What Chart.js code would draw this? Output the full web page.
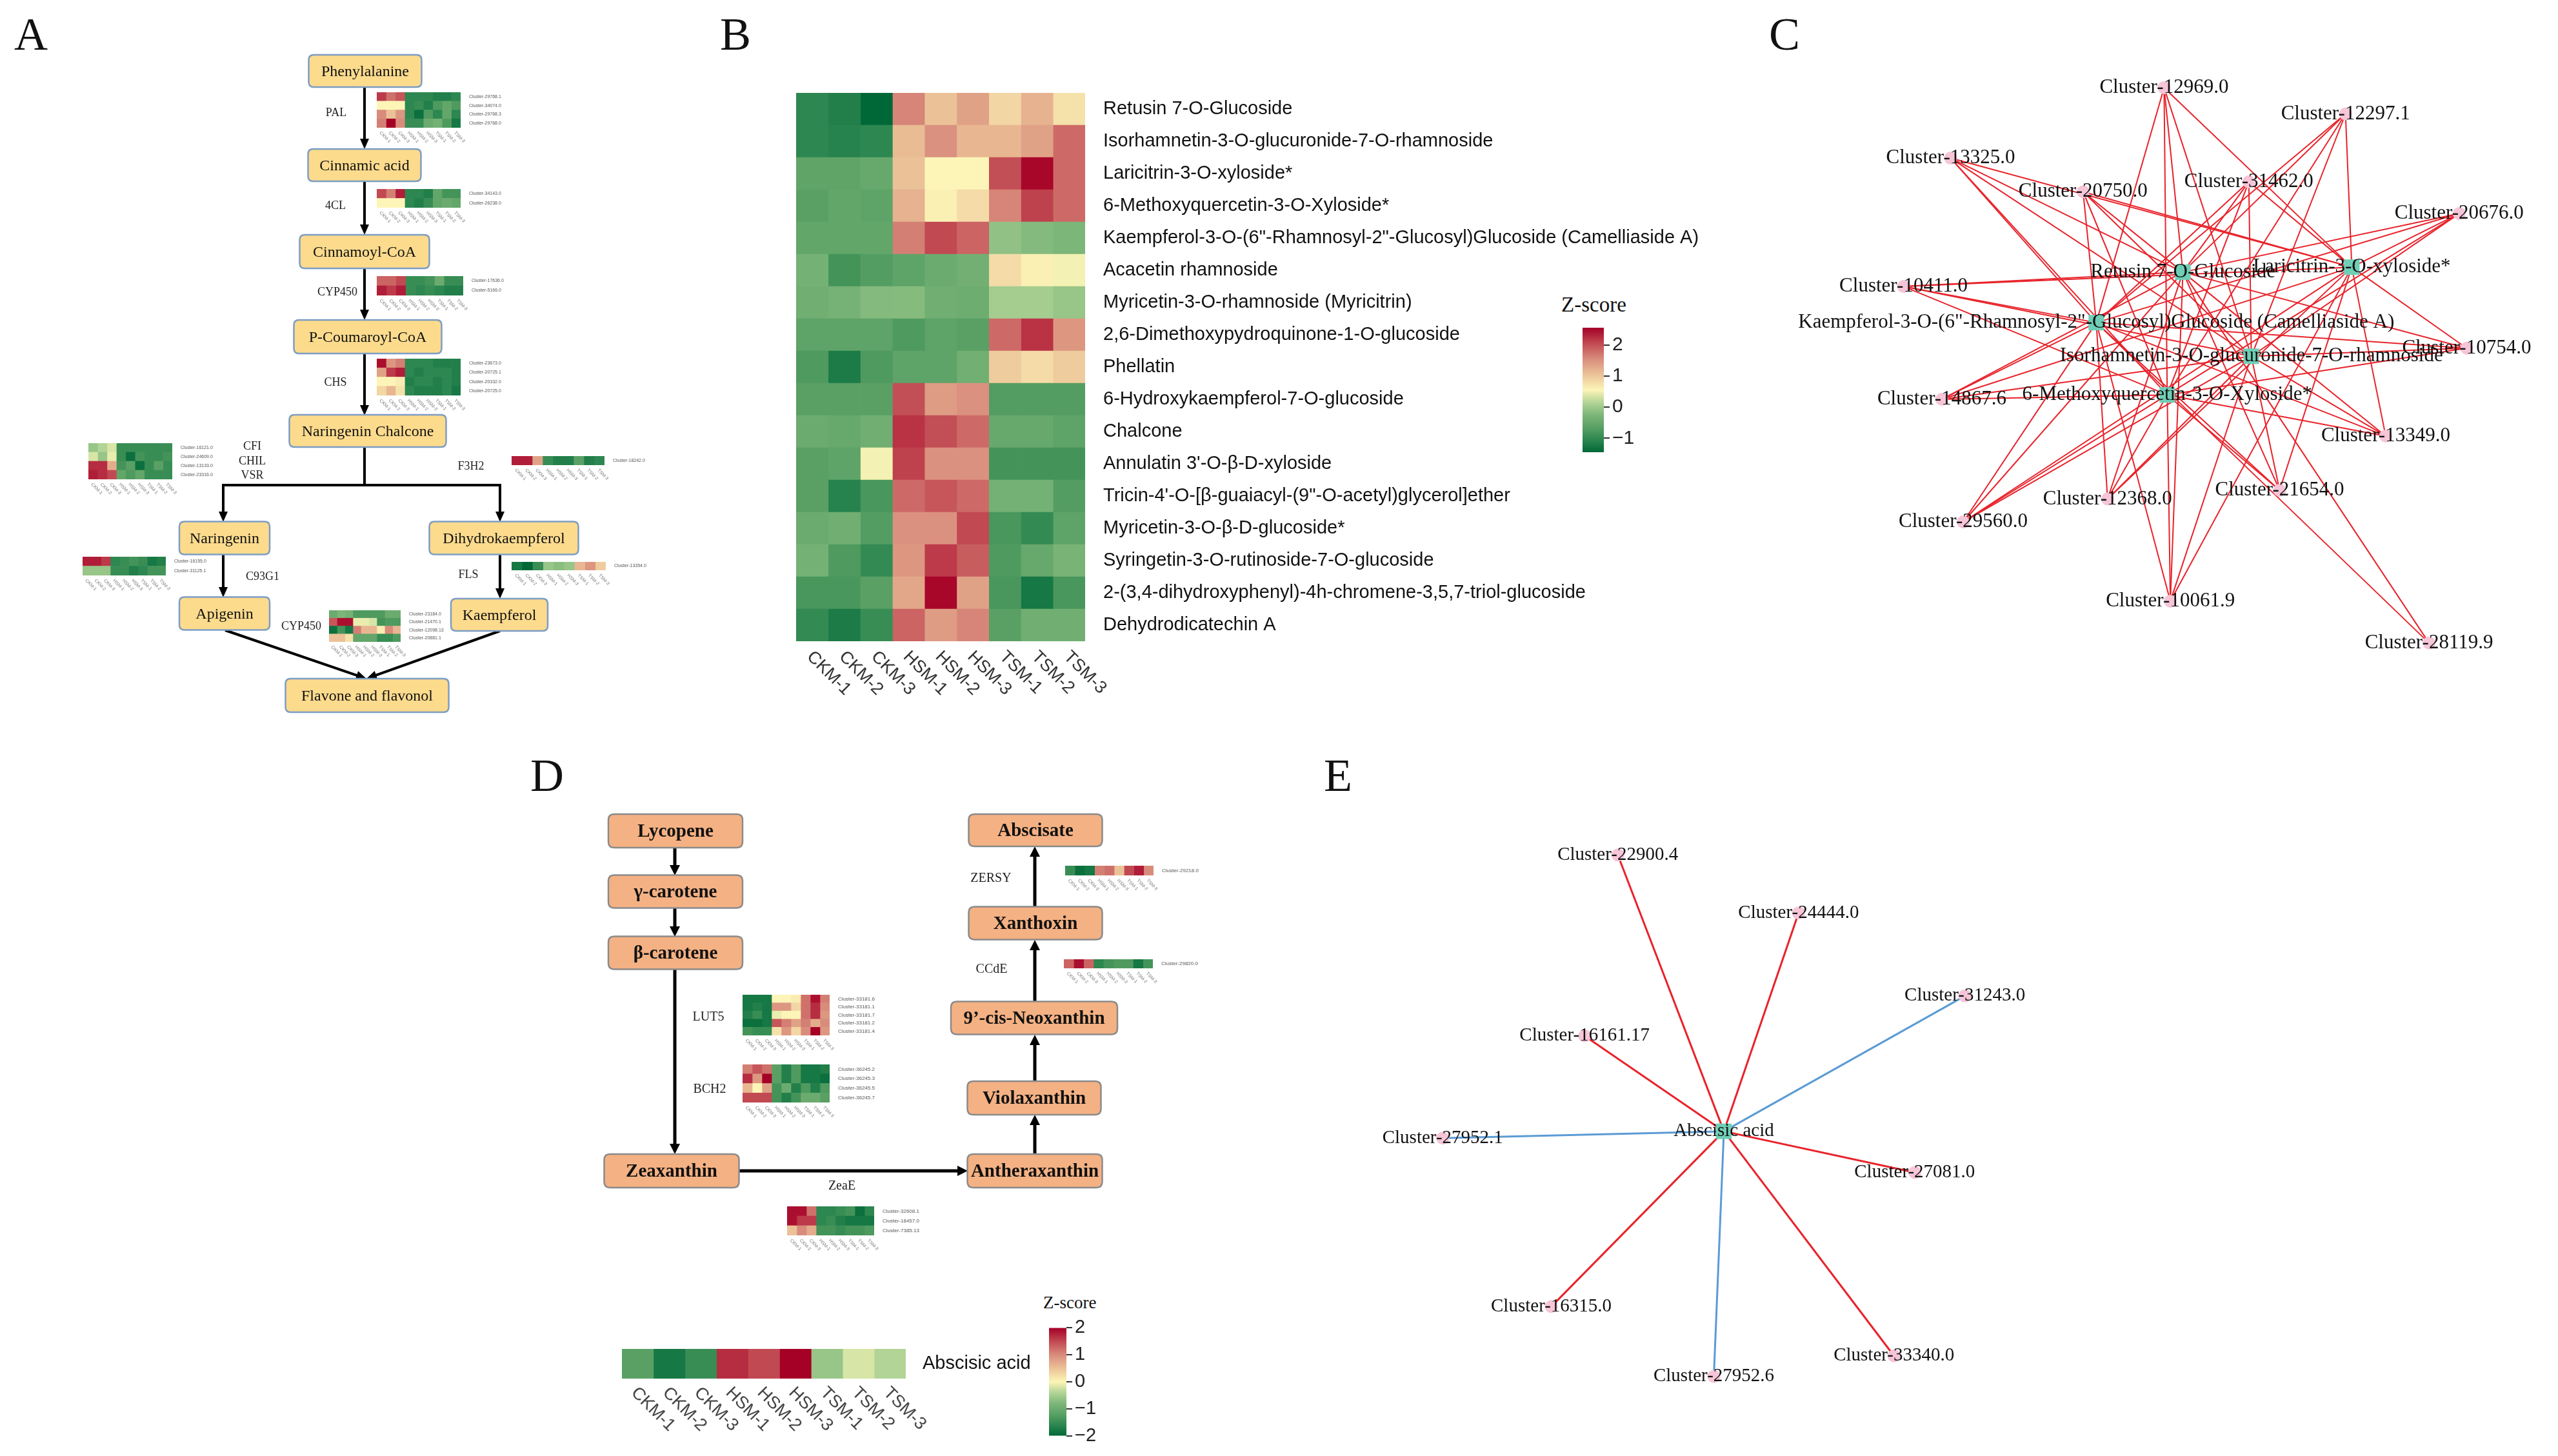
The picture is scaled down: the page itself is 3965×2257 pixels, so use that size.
<!DOCTYPE html>
<html>
<head>
<meta charset="utf-8">
<title>Flavonoid and ABA pathways</title>
<script src="https://cdn.jsdelivr.net/npm/chart.js@4.4.1/dist/chart.umd.min.js"></script>
<style>
  html, body { margin: 0; background: #fff; }
  #page { position: relative; width: 3965px; height: 2257px; overflow: hidden; background: #fff; }
  #page canvas { position: absolute; }
  .tag { position: absolute; font-family: "Liberation Serif", serif; color: #111; line-height: 1; white-space: nowrap; }
</style>
</head>
<body>
<div id="page">
  <div class="tag" style="left:22px;top:17px;font-size:72px">A</div>
  <div class="tag" style="left:1116px;top:17px;font-size:72px">B</div>
  <div class="tag" style="left:2742px;top:17px;font-size:72px">C</div>
  <div class="tag" style="left:822px;top:1166px;font-size:72px">D</div>
  <div class="tag" style="left:2052px;top:1166px;font-size:72px">E</div>
  <div class="tag" style="left:2420px;top:456px;font-size:33px">Z-score</div>
  <div class="tag" style="left:1617px;top:2006px;font-size:27px">Z-score</div>
</div>
<script>
// samples (heatmap columns)
const samples = ['CKM-1','CKM-2','CKM-3','HSM-1','HSM-2','HSM-3','TSM-1','TSM-2','TSM-3'];

// B: flavonoid metabolites, z-scores
const metabolites = [
  'Retusin 7-O-Glucoside',
  'Isorhamnetin-3-O-glucuronide-7-O-rhamnoside',
  'Laricitrin-3-O-xyloside*',
  '6-Methoxyquercetin-3-O-Xyloside*',
  'Kaempferol-3-O-(6"-Rhamnosyl-2"-Glucosyl)Glucoside (Camelliaside A)',
  'Acacetin rhamnoside',
  'Myricetin-3-O-rhamnoside (Myricitrin)',
  '2,6-Dimethoxypydroquinone-1-O-glucoside',
  'Phellatin',
  '6-Hydroxykaempferol-7-O-glucoside',
  'Chalcone',
  "Annulatin 3'-O-β-D-xyloside",
  "Tricin-4'-O-[β-guaiacyl-(9\"-O-acetyl)glycerol]ether",
  'Myricetin-3-O-β-D-glucoside*',
  'Syringetin-3-O-rutinoside-7-O-glucoside',
  '2-(3,4-dihydroxyphenyl)-4h-chromene-3,5,7-triol-glucoside',
  'Dehydrodicatechin A'
];
const metaboliteZ = [
  [-1.05,-1.15,-1.45, 1.6, 1.05, 1.35, 0.85, 1.2, 0.75],
  [-1.05,-1.1,-1.05, 1.1, 1.5, 1.15, 1.15, 1.35, 1.8],
  [-0.57,-0.57,-0.5, 1.05, 0.55, 0.55, 2.0, 2.5, 1.8],
  [-0.65,-0.55,-0.6, 1.2, 0.6, 0.8, 1.6, 2.1, 1.8],
  [-0.55,-0.55,-0.55, 1.65, 2.05, 1.85,-0.1,-0.2,-0.25],
  [-0.35,-0.85,-0.7,-0.6,-0.45,-0.37, 0.8, 0.6, 0.5],
  [-0.4,-0.33,-0.2,-0.18,-0.4,-0.42, 0.05, 0.05,-0.05],
  [-0.6,-0.6,-0.6,-0.75,-0.6,-0.65, 1.8, 2.2, 1.45],
  [-0.75,-1.2,-0.75,-0.6,-0.6,-0.38, 0.95, 0.8, 0.95],
  [-0.65,-0.65,-0.65, 2.0, 1.4, 1.5,-0.7,-0.7,-0.7],
  [-0.45,-0.5,-0.4, 2.2, 2.0, 1.8,-0.5,-0.5,-0.6],
  [-0.65,-0.6, 0.5, 2.1, 1.5, 1.5,-0.85,-0.85,-0.85],
  [-0.65,-1.1,-0.8, 1.8, 1.95, 1.8,-0.35,-0.35,-0.7],
  [-0.45,-0.4,-0.7, 1.5, 1.5, 2.05,-0.8,-1.0,-0.6],
  [-0.35,-0.75,-1.0, 1.45, 2.15, 1.9,-0.75,-0.5,-0.3],
  [-0.8,-0.8,-0.65, 1.3, 2.5, 1.35,-0.8,-1.25,-0.8],
  [-1.0,-1.2,-0.95, 1.85, 1.4, 1.6,-0.65,-0.4,-0.4]
];
const bScaleTicks = [-1, 0, 1, 2];

// A: flavonoid pathway
const flavNodes = ['Phenylalanine','Cinnamic acid','Cinnamoyl-CoA','P-Coumaroyl-CoA','Naringenin Chalcone',
  'Naringenin','Dihydrokaempferol','Apigenin','Kaempferol','Flavone and flavonol'];
const flavEnzymes = ['PAL','4CL','CYP450','CHS','CFI','CHIL','VSR','F3H2','C93G1','FLS','CYP450'];

const palGenes = ['Cluster-29768.1','Cluster-34074.0','Cluster-29768.3','Cluster-29768.0'];
const palZ = [
  [2.1, 1.7, 1.9,-1.1,-1.1,-1.1,-1.2,-1.2,-1.1],
  [0.5, 0.5, 0.5,-1.1,-1.0,-1.2,-0.8,-0.6,-0.8],
  [1.5, 1.0, 1.4,-1.1,-1.4,-0.8,-1.1,-0.6,-1.1],
  [1.6, 2.5, 1.5,-1.0,-1.0,-0.5,-0.4,-0.8,-1.3]
];
const fourClGenes = ['Cluster-34143.0','Cluster-26238.0'];
const fourClZ = [
  [2.0, 1.6, 2.3,-1.1,-1.1,-1.2,-0.6,-0.9,-0.9],
  [0.5, 0.5, 0.5,-1.1,-1.2,-1.0,-0.6,-0.5,-0.6]
];
const cypAGenes = ['Cluster-17636.0','Cluster-5166.0'];
const cypAZ = [
  [1.8, 1.8, 2.0,-1.0,-1.0,-0.9,-0.5,-1.0,-1.0],
  [2.3, 2.1, 2.3,-1.0,-1.1,-1.0,-1.1,-1.2,-1.2]
];
const chsGenes = ['Cluster-23673.0','Cluster-20725.1','Cluster-20332.0','Cluster-20725.0'];
const chsZ = [
  [2.4, 1.4, 1.6,-1.1,-1.1,-1.1,-1.2,-1.2,-1.2],
  [1.3, 2.1, 2.3,-1.1,-1.2,-1.1,-1.1,-1.1,-1.2],
  [0.5, 0.5, 0.6,-1.2,-1.1,-1.1,-1.2,-1.1,-1.2],
  [0.8, 1.1, 0.7,-1.1,-1.2,-1.2,-1.2,-1.1,-1.3]
];
const cfiGenes = ['Cluster-16121.0','Cluster-24609.0','Cluster-13133.0','Cluster-23316.0'];
const cfiZ = [
  [-0.1, 0.1, 0.3,-1.0,-1.0,-1.0,-1.0,-1.0,-1.0],
  [ 0.3,-0.1, 0.4,-1.0,-1.4,-0.9,-1.0,-1.0,-0.9],
  [ 2.2, 2.2, 1.2,-0.9,-0.7,-1.4,-1.0,-0.7,-1.0],
  [ 2.3, 2.2, 2.0,-0.6,-0.8,-0.6,-1.0,-1.0,-1.0]
];
const f3hGenes = ['Cluster-18242.0'];
const f3hZ = [[2.3, 2.3, 1.3,-1.0,-1.2,-1.2,-0.7,-1.2,-1.1]];
const c93Genes = ['Cluster-16155.0','Cluster-31125.1'];
const c93Z = [
  [ 2.3, 2.3, 2.1,-1.1,-1.0,-0.9,-1.0,-1.3,-1.2],
  [-0.1,-0.1,-0.1,-1.0,-1.0,-1.2,-1.1,-0.9,-0.9]
];
const flsGenes = ['Cluster-13354.0'];
const flsZ = [[-1.3,-1.5,-1.0,-0.1,-0.2,-0.1, 1.1, 1.4, 0.9]];
const cypBGenes = ['Cluster-23184.0','Cluster-21470.1','Cluster-12098.13','Cluster-20881.1'];
const cypBZ = [
  [-0.5,-0.3,-0.4,-0.8,-0.8,-0.8,-0.8,-0.5,-0.5],
  [ 1.9, 2.4, 2.4, 0.4, 0.4, 0.3,-0.9,-0.8,-0.8],
  [-1.4,-0.9,-1.3, 1.6, 1.1, 1.1, 0.6, 1.5, 1.1],
  [ 1.0, 1.0, 0.7,-0.6,-0.6,-0.6,-1.0,-1.0,-0.8]
];

// D: carotenoid / ABA pathway
const abaNodes = ['Lycopene','γ-carotene','β-carotene','Zeaxanthin','Antheraxanthin','Violaxanthin',
  '9’-cis-Neoxanthin','Xanthoxin','Abscisate'];
const abaEnzymes = ['LUT5','BCH2','ZeaE','ZERSY','CCdE'];
const lutGenes = ['Cluster-33181.6','Cluster-33181.1','Cluster-33181.7','Cluster-33181.2','Cluster-33181.4'];
const lutZ = [
  [-1.3,-1.3,-1.3, 0.5, 0.5, 0.6, 1.7, 2.4, 1.6],
  [-1.3,-1.2,-1.3, 1.4, 1.4, 0.8, 1.7, 2.2, 1.5],
  [-1.2,-1.0,-1.3, 0.4, 0.5, 0.5, 1.7, 2.2, 1.4],
  [-1.4,-1.4,-1.3, 1.9, 1.6, 1.3, 1.6, 1.2, 1.5],
  [-0.9,-1.0,-1.0, 0.7, 1.4, 0.8, 1.5, 2.5, 1.4]
];
const bchGenes = ['Cluster-36245.2','Cluster-36245.3','Cluster-36245.5','Cluster-36245.7'];
const bchZ = [
  [1.6, 1.9, 1.7,-0.7,-1.2,-0.8,-1.3,-1.3,-1.2],
  [2.2, 1.4, 2.5,-0.7,-1.2,-0.8,-1.3,-1.3,-1.4],
  [1.1, 0.5, 1.3,-0.9,-0.5,-1.2,-0.8,-1.2,-0.8],
  [2.0, 2.0, 2.0,-0.9,-1.2,-0.9,-0.5,-0.5,-0.7]
];
const zeaGenes = ['Cluster-32608.1','Cluster-18457.0','Cluster-7385.13'];
const zeaZ = [
  [2.4, 2.4, 1.7,-1.1,-1.1,-1.0,-0.9,-1.4,-1.1],
  [2.4, 2.1, 2.1,-1.1,-1.0,-1.2,-1.3,-1.3,-1.3],
  [1.0, 1.5, 1.2,-0.9,-0.9,-1.0,-0.9,-0.9,-0.8]
];
const zersyGenes = ['Cluster-29218.0'];
const zersyZ = [[-1.0,-1.4,-1.3, 1.6, 1.7, 1.0, 2.0, 2.3, 1.5]];
const ccdGenes = ['Cluster-29820.0'];
const ccdZ = [[1.8, 2.4, 1.8,-1.1,-0.9,-0.8,-0.8,-1.3,-0.9]];
const abaMetabolite = ['Abscisic acid'];
const abaZ = [[-1.2,-1.8,-1.5, 1.7, 1.5, 2.0,-0.6,-0.2,-0.4]];
const dScaleTicks = [-2, -1, 0, 1, 2];

// C: gene-metabolite network (flavonoids)
const cHubs = ['Retusin 7-O-Glucoside','Laricitrin-3-O-xyloside*',
  'Kaempferol-3-O-(6"-Rhamnosyl-2"-Glucosyl)Glucoside (Camelliaside A)',
  'Isorhamnetin-3-O-glucuronide-7-O-rhamnoside','6-Methoxyquercetin-3-O-Xyloside*'];
const cGenes = ['Cluster-12969.0','Cluster-12297.1','Cluster-13325.0','Cluster-31462.0','Cluster-20750.0',
  'Cluster-20676.0','Cluster-10411.0','Cluster-10754.0','Cluster-14867.6','Cluster-13349.0',
  'Cluster-21654.0','Cluster-12368.0','Cluster-29560.0','Cluster-10061.9','Cluster-28119.9'];
// hubs linked to each gene (indices into cHubs)
const cLinks = [
  [0,1,2,3,4],[0,1,2,3,4],[0,1,2,3,4],[0,1,2,3,4],[0,1,2,3,4],
  [0,1,2,3,4],[0,1,2,3,4],[0,1,2,3,4],[0,1,2,3,4],[0,1,2,3,4],
  [0,1,2,3,4],[0,1,2,3,4],[0,1,2,3,4],[0,1,2,3,4],[0,2]
];

// E: gene-ABA network, sign of correlation
const eHub = 'Abscisic acid';
const eGenes = ['Cluster-22900.4','Cluster-24444.0','Cluster-31243.0','Cluster-16161.17','Cluster-27952.1',
  'Cluster-27081.0','Cluster-16315.0','Cluster-27952.6','Cluster-33340.0'];
const eSign = [1, 1, -1, 1, -1, 1, 1, -1, 1];

// ---- layout (page pixels) ----
const flavBoxes = [[566,110,175,50],[565,256,175,50],[565,390,201,52],[570,522,229,52],[570,668,243,50],
  [348,834,140,51],[781,834,231,51],[348,951,140,51],[774,953,150,50],[569,1078,253,52]];
const flavArrows = [
  [[565,135],[565,231]], [[565,281],[565,364]], [[565,416],[565,496]], [[565,548],[565,644]],
  [[565,693],[565,752],[346,752],[346,809]], [[565,752],[775,752],[775,809]],
  [[346,860],[346,926]], [[775,860],[775,928]],
  [[349,977],[568,1052]], [[775,978],[568,1052]]
];
const flavEnzPos = [[521,175],[520,319],[523,453],[520,593],[391,692],[391,715],[391,737],[730,723],[407,894],[726,891],[467,971]];
const abaBoxes = [[1047,1288,208,52],[1047,1382,208,51],[1047,1477,208,51],[1041,1815,209,52],[1604,1815,209,52],
  [1603,1702,207,52],[1603,1578,258,51],[1605,1431,207,51],[1605,1287,207,50]];
const abaArrows = [
  [[1046,1314],[1046,1357]], [[1046,1408],[1046,1452]], [[1046,1503],[1046,1789]], [[1146,1815],[1500,1815]],
  [[1604,1789],[1604,1728]], [[1604,1676],[1604,1604]], [[1604,1553],[1604,1457]], [[1604,1406],[1604,1312]]
];
const abaEnzPos = [[1098,1577],[1100,1689],[1305,1839],[1536,1362],[1537,1503]];
const cHubPos = [[3385,417],[3654,409],[3247,498],[3494,552],[3360,614]];
const cGenePos = [[3355,121],[3644,163],[3015,234],[3490,272],[3226,288],[3825,323],[2940,440],[3837,539],
  [3001,621],[3708,680],[3539,767],[3265,781],[3035,818],[3365,945],[3777,1012]];
const eHubPos = [2672,1754];
const eGenePos = [[2503,1311],[2791,1404],[3056,1537],[2450,1601],[2224,1765],[2976,1820],[2397,2035],[2656,2147],[2943,2114]];

Chart.defaults.animation = false;
Chart.defaults.responsive = false;
Chart.defaults.devicePixelRatio = 1;
Chart.defaults.plugins.legend.display = false;
Chart.defaults.plugins.tooltip.enabled = false;

const page = document.getElementById('page');
function addCanvas(x, y, w, h) {
  const c = document.createElement('canvas');
  c.width = w; c.height = h;
  c.style.left = x + 'px'; c.style.top = y + 'px';
  c.style.width = w + 'px'; c.style.height = h + 'px';
  page.appendChild(c);
  return c;
}

// green - yellow - red z-score ramp
const zStops = [[0,[0,104,55]],[0.1,[45,135,80]],[0.2,[90,160,100]],[0.3,[125,182,121]],[0.4,[178,212,150]],
  [0.5,[252,245,183]],[0.62,[236,196,152]],[0.75,[217,140,124]],[0.88,[192,70,80]],[1,[165,0,38]]];
function zColor(v, lo, hi) {
  const t = Math.max(0, Math.min(1, (v - lo) / (hi - lo)));
  for (let i = 1; i < zStops.length; i++) {
    if (t <= zStops[i][0]) {
      const [t0, c0] = zStops[i - 1], [t1, c1] = zStops[i];
      const f = (t - t0) / (t1 - t0);
      return 'rgb(' + c0.map((c, k) => Math.round(c + (c1[k] - c) * f)).join(',') + ')';
    }
  }
  return 'rgb(165,0,38)';
}

// heatmap = horizontal stacked bars, one dataset per sample
function heatmap(x, y, cellW, cellH, rows, z, o) {
  const nC = samples.length;
  const w = Math.round(cellW * nC + o.labelW), h = Math.round(cellH * rows.length + o.bottom);
  const canvas = addCanvas(x, y, w, h);
  const colLabels = {
    id: 'colLabels',
    afterDraw(chart) {
      const { ctx, chartArea } = chart, xs = chart.scales.x;
      ctx.save();
      ctx.font = o.colFont; ctx.fillStyle = o.colColor;
      ctx.textAlign = 'left'; ctx.textBaseline = 'middle';
      samples.forEach((s, j) => {
        ctx.save();
        ctx.translate(xs.getPixelForValue(j + 0.5) + o.dx, chartArea.bottom + o.dy);
        ctx.rotate(o.angle);
        ctx.fillText(s, 0, 0);
        ctx.restore();
      });
      ctx.restore();
    }
  };
  return new Chart(canvas, {
    type: 'bar',
    data: {
      labels: rows,
      datasets: samples.map((s, j) => ({
        label: s,
        data: rows.map(() => 1),
        backgroundColor: z.map(r => zColor(r[j], o.lo, o.hi)),
        borderWidth: 0, barPercentage: 1, categoryPercentage: 1
      }))
    },
    options: {
      indexAxis: 'y',
      layout: { padding: { top: 0, left: 0, right: 0, bottom: o.bottom } },
      scales: {
        x: { stacked: true, min: 0, max: nC, display: false },
        y: {
          stacked: true, position: 'right',
          grid: { display: false }, border: { display: false },
          afterFit: a => { a.width = o.labelW; a.paddingTop = 0; a.paddingBottom = 0; },
          ticks: { autoSkip: false, padding: o.pad, color: o.rowColor, font: o.rowFont }
        }
      }
    },
    plugins: [colLabels]
  });
}

// vertical colour bar with gradient, axis ticks on the right
function colorBar(x, y, w, h, lo, hi, ticks, zlo, zhi, font) {
  const padV = 20;
  const canvas = addCanvas(x, y - padV, w + 70, h + 2 * padV);
  new Chart(canvas, {
    type: 'bar',
    data: {
      labels: ['z'],
      datasets: [{
        data: [[lo, hi]],
        barPercentage: 1, categoryPercentage: 1, borderWidth: 0,
        backgroundColor: c => {
          const ca = c.chart.chartArea;
          if (!ca) return '#fff';
          const g = c.chart.ctx.createLinearGradient(0, ca.bottom, 0, ca.top);
          for (let i = 0; i <= 24; i++) g.addColorStop(i / 24, zColor(lo + (hi - lo) * i / 24, zlo, zhi));
          return g;
        }
      }]
    },
    options: {
      layout: { padding: { top: padV, bottom: padV, left: 0, right: 0 } },
      scales: {
        x: { display: false },
        y: {
          position: 'right', min: lo, max: hi,
          afterBuildTicks: a => { a.ticks = ticks.map(v => ({ value: v })); },
          afterFit: a => { a.width = 70; },
          grid: { drawOnChartArea: false, tickLength: 9, color: '#333', lineWidth: 2 },
          border: { display: false },
          ticks: { padding: 4, color: '#222', font, callback: v => (v < 0 ? '\u2212' + Math.abs(v) : String(v)) }
        }
      }
    }
  });
}

// pathway diagram: boxes + arrows drawn on a hidden linear scale in page units
function diagram(x, y, w, h, names, boxes, arrows, enzymes, enzPos, st) {
  const canvas = addCanvas(x, y, w, h);
  const draw = {
    id: 'diagram',
    beforeDatasetsDraw(chart) {
      const { ctx } = chart, sx = chart.scales.x, sy = chart.scales.y;
      const P = p => [sx.getPixelForValue(p[0]), sy.getPixelForValue(p[1])];
      ctx.save();
      ctx.strokeStyle = '#000'; ctx.fillStyle = '#000'; ctx.lineWidth = st.lineW;
      arrows.forEach(a => {
        const pts = a.map(P), n = pts.length;
        const [x1, y1] = pts[n - 2], [x2, y2] = pts[n - 1];
        const ang = Math.atan2(y2 - y1, x2 - x1), hl = st.headL, hw = st.headW;
        ctx.beginPath();
        ctx.moveTo(pts[0][0], pts[0][1]);
        for (let i = 1; i < n - 1; i++) ctx.lineTo(pts[i][0], pts[i][1]);
        ctx.lineTo(x2 - Math.cos(ang) * hl * 0.8, y2 - Math.sin(ang) * hl * 0.8);
        ctx.stroke();
        ctx.beginPath();
        ctx.moveTo(x2, y2);
        ctx.lineTo(x2 - hl * Math.cos(ang) + hw * Math.sin(ang), y2 - hl * Math.sin(ang) - hw * Math.cos(ang));
        ctx.lineTo(x2 - hl * Math.cos(ang) - hw * Math.sin(ang), y2 - hl * Math.sin(ang) + hw * Math.cos(ang));
        ctx.closePath(); ctx.fill();
      });
      boxes.forEach((b, i) => {
        const [cx, cy] = P([b[0], b[1]]);
        const bw = b[2], bh = b[3], r = st.radius;
        const l = cx - bw / 2, t = cy - bh / 2;
        ctx.beginPath();
        ctx.moveTo(l + r, t); ctx.lineTo(l + bw - r, t); ctx.quadraticCurveTo(l + bw, t, l + bw, t + r);
        ctx.lineTo(l + bw, t + bh - r); ctx.quadraticCurveTo(l + bw, t + bh, l + bw - r, t + bh);
        ctx.lineTo(l + r, t + bh); ctx.quadraticCurveTo(l, t + bh, l, t + bh - r);
        ctx.lineTo(l, t + r); ctx.quadraticCurveTo(l, t, l + r, t);
        ctx.closePath();
        ctx.fillStyle = st.fill; ctx.fill();
        ctx.lineWidth = st.boxLineW; ctx.strokeStyle = st.stroke; ctx.stroke();
        ctx.fillStyle = '#111'; ctx.font = st.boxFont;
        ctx.textAlign = 'center'; ctx.textBaseline = 'middle';
        ctx.fillText(names[i], cx, cy + 2);
      });
      ctx.fillStyle = '#222'; ctx.font = st.enzFont;
      enzymes.forEach((e, i) => {
        const [ex, ey] = P(enzPos[i]);
        ctx.fillText(e, ex, ey);
      });
      ctx.restore();
    }
  };
  new Chart(canvas, {
    type: 'scatter',
    data: { datasets: [{ data: boxes.map(b => ({ x: b[0], y: b[1] })), pointRadius: 0 }] },
    options: {
      layout: { padding: 0 },
      scales: {
        x: { type: 'linear', min: x, max: x + w, display: false },
        y: { type: 'linear', min: y, max: y + h, reverse: true, display: false }
      }
    },
    plugins: [draw]
  });
}

// network: scatter nodes + straight edges, labels centred on nodes
function network(x, y, w, h, hubs, hubPos, genes, genePos, edges, st) {
  const canvas = addCanvas(x, y, w, h);
  const pt = p => ({ x: p[0], y: p[1] });
  const labels = {
    id: 'nodeLabels',
    afterDatasetsDraw(chart) {
      const { ctx } = chart, sx = chart.scales.x, sy = chart.scales.y;
      ctx.save();
      ctx.font = st.font; ctx.fillStyle = '#111';
      ctx.textAlign = 'center'; ctx.textBaseline = 'middle';
      genes.forEach((g, i) => ctx.fillText(g, sx.getPixelForValue(genePos[i][0]), sy.getPixelForValue(genePos[i][1])));
      hubs.forEach((g, i) => ctx.fillText(g, sx.getPixelForValue(hubPos[i][0]), sy.getPixelForValue(hubPos[i][1])));
      ctx.restore();
    }
  };
  const datasets = [
    { data: hubPos.map(pt), pointStyle: 'rect', pointRadius: st.hubR, backgroundColor: '#6fcfb6', borderWidth: 0 },
    { data: genePos.map(pt), pointStyle: 'circle', pointRadius: st.geneR, backgroundColor: '#f6c5d8', borderWidth: 0 }
  ].concat(edges.map(e => ({
    data: [pt(genePos[e[0]]), pt(hubPos[e[1]])],
    showLine: true, pointRadius: 0, borderColor: e[2], borderWidth: st.edgeW
  })));
  new Chart(canvas, {
    type: 'scatter',
    data: { datasets },
    options: {
      layout: { padding: 0 },
      scales: {
        x: { type: 'linear', min: x, max: x + w, display: false },
        y: { type: 'linear', min: y, max: y + h, reverse: true, display: false }
      }
    },
    plugins: [labels]
  });
}

// ---------- panel A ----------
diagram(0, 0, 1120, 1130, flavNodes, flavBoxes, flavArrows, flavEnzymes, flavEnzPos,
  { fill: '#fcdb8d', stroke: '#7d9dc4', radius: 8, boxLineW: 2.5, lineW: 4, headL: 16, headW: 7,
    boxFont: '24px "Liberation Serif"', enzFont: '18px "Liberation Serif"' });
const mini = { lo: -1.5, hi: 2.5, labelW: 80, bottom: 30, pad: 5, rowColor: '#555',
  rowFont: { family: 'Liberation Sans', size: 7 }, colFont: '7px "Liberation Sans"', colColor: '#777',
  dx: -2, dy: 7, angle: Math.PI / 4 };
heatmap(584, 143, 14.4, 13.75, palGenes, palZ, mini);
heatmap(584, 293, 14.4, 14.5, fourClGenes, fourClZ, mini);
heatmap(584, 428, 14.9, 15, cypAGenes, cypAZ, mini);
heatmap(584, 556, 14.4, 14.25, chsGenes, chsZ, mini);
heatmap(137, 687, 14.4, 14, cfiGenes, cfiZ, mini);
heatmap(793, 707, 16, 14, f3hGenes, f3hZ, mini);
heatmap(128, 863, 14.3, 14.5, c93Genes, c93Z, mini);
heatmap(793, 871, 16.2, 13, flsGenes, flsZ, mini);
heatmap(510, 946, 12.3, 12.25, cypBGenes, cypBZ, mini);

// ---------- panel B ----------
heatmap(1234, 144, 448 / 9, 50, metabolites, metaboliteZ,
  { lo: -1.45, hi: 2.55, labelW: 1000, bottom: 110, pad: 20, rowColor: '#111',
    rowFont: { family: 'Liberation Sans', size: 29 }, colFont: '27px "Liberation Sans"', colColor: '#333',
    dx: -4, dy: 20, angle: Math.PI / 4 });
colorBar(2453, 506, 33, 197, -1.45, 2.55, bScaleTicks, -1.45, 2.55, { family: 'Liberation Sans', size: 30 });

// ---------- panel C ----------
const cEdges = [];
cLinks.forEach((hs, g) => hs.forEach(hb => cEdges.push([g, hb, '#e8232b'])));
network(2700, 60, 1265, 1000, cHubs, cHubPos, cGenes, cGenePos, cEdges,
  { font: '31px "Liberation Serif"', hubR: 17, geneR: 10, edgeW: 2 });

// ---------- panel D ----------
diagram(900, 1230, 900, 680, abaNodes, abaBoxes, abaArrows, abaEnzymes, abaEnzPos,
  { fill: '#f4b183', stroke: '#8a8a8a', radius: 9, boxLineW: 2.5, lineW: 5, headL: 16, headW: 8,
    boxFont: 'bold 29px "Liberation Serif"', enzFont: '20px "Liberation Serif"' });
const miniD = Object.assign({}, mini, { rowFont: { family: 'Liberation Sans', size: 8 }, labelW: 90 });
heatmap(1151, 1542, 15, 12.6, lutGenes, lutZ, miniD);
heatmap(1151, 1650, 15, 14.75, bchGenes, bchZ, miniD);
heatmap(1220, 1870, 15, 15, zeaGenes, zeaZ, miniD);
heatmap(1651, 1342, 15.2, 15, zersyGenes, zersyZ, miniD);
heatmap(1649, 1487, 15.3, 14, ccdGenes, ccdZ, miniD);
heatmap(964, 2091, 440 / 9, 46, abaMetabolite, abaZ,
  { lo: -2, hi: 2, labelW: 220, bottom: 110, pad: 18, rowColor: '#111',
    rowFont: { family: 'Liberation Sans', size: 29 }, colFont: '27px "Liberation Sans"', colColor: '#444',
    dx: -6, dy: 18, angle: Math.PI / 4 });
colorBar(1626, 2057, 27, 170, -2, 2, dScaleTicks, -2, 2, { family: 'Liberation Sans', size: 29 });

// ---------- panel E ----------
network(2050, 1230, 1250, 1027, [eHub], [eHubPos], eGenes, eGenePos,
  eGenes.map((g, i) => [i, 0, eSign[i] > 0 ? '#e8232b' : '#5b9bd5']),
  { font: '29px "Liberation Serif"', hubR: 17, geneR: 10, edgeW: 3 });
</script>
</body>
</html>
